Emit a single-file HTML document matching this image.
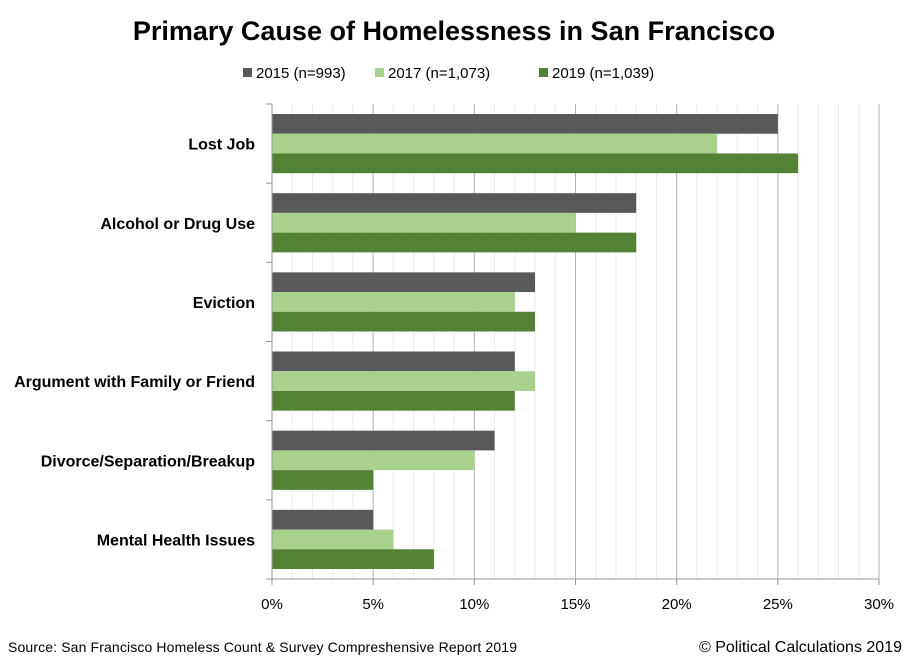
<!DOCTYPE html>
<html><head><meta charset="utf-8"><style>
body{margin:0;background:#fff;font-family:"Liberation Sans",sans-serif}
</style></head><body>
<svg id="c" width="912" height="662" xmlns="http://www.w3.org/2000/svg">
<text x="454" y="40" text-anchor="middle" font-size="27" font-weight="bold" fill="#000">Primary Cause of Homelessness in San Francisco</text>
<g id="legend"></g>
<g id="grid"></g><g id="bars"></g><g id="axes"></g>
<text x="8" y="652" font-size="14" textLength="509" fill="#000">Source: San Francisco Homeless Count &amp; Survey Compreshensive Report 2019</text>
<text x="902" y="652" text-anchor="end" font-size="16" fill="#000">© Political Calculations 2019</text>
</svg>
<script>
const categories=["Lost Job","Alcohol or Drug Use","Eviction","Argument with Family or Friend","Divorce/Separation/Breakup","Mental Health Issues"];
const seriesNames=["2015 (n=993)","2017 (n=1,073)","2019 (n=1,039)"];
const s2015=[25,18,13,12,11,5];
const s2017=[22,15,12,13,10,6];
const s2019=[26,18,13,12,5,8];
const xTicks=[0,5,10,15,20,25,30];
const series=[s2015,s2017,s2019];
const colors=["#595959","#a9d18e","#538135"];
const NS="http://www.w3.org/2000/svg";
const X0=272,X1=879,Y0=104,Y1=579,XMAX=30;
const x=v=>X0+v/XMAX*(X1-X0);
const band=(Y1-Y0)/categories.length,pad=10,bh=(band-2*pad)/3;
function mk(t,a,p){const e=document.createElementNS(NS,t);for(const k in a)e.setAttribute(k,a[k]);p.appendChild(e);return e;}
const grid=document.getElementById('grid'),bars=document.getElementById('bars'),axes=document.getElementById('axes'),leg=document.getElementById('legend');
for(let v=1;v<=XMAX;v++){const l=mk('line',{x1:x(v),x2:x(v),y1:Y0,y2:Y1,stroke:v%5?'#ececec':'#b4b4b4','stroke-width':1},grid);

}
categories.forEach((c,i)=>{
 const gy=Y0+i*band;
 series.forEach((s,j)=>{const r=mk('rect',{x:X0,y:gy+pad+j*bh,width:x(s[i])-X0,height:bh,fill:colors[j]},bars);
 
 });
 const t=mk('text',{x:255,y:gy+band/2+6,'text-anchor':'end','font-size':16,'font-weight':'bold',fill:'#000'},axes);t.textContent=c;
 
 
});
for(let i=0;i<=categories.length;i++){const l=mk('line',{x1:X0-6,x2:X0,y1:Y0+i*band,y2:Y0+i*band,stroke:'#999'},axes);

}
const ya=mk('line',{x1:X0,x2:X0,y1:Y0,y2:Y1+6,stroke:'#999'},axes);


const xa=mk('line',{x1:X0,x2:X1,y1:Y1,y2:Y1,stroke:'#999'},axes);


xTicks.forEach(v=>{const l=mk('line',{x1:x(v),x2:x(v),y1:Y1,y2:Y1+6,stroke:'#999'},axes);


const t=mk('text',{x:x(v),y:Y1+30,'text-anchor':'middle','font-size':15,fill:'#000'},axes);t.textContent=v+'%';

});
const lx=[243,375,539];
seriesNames.forEach((n,j)=>{const r=mk('rect',{x:lx[j],y:68,width:9,height:9,fill:colors[j]},leg);


const t=mk('text',{x:lx[j]+13,y:78,'font-size':15,fill:'#000'},leg);t.textContent=n;

});
</script>
</body></html>
